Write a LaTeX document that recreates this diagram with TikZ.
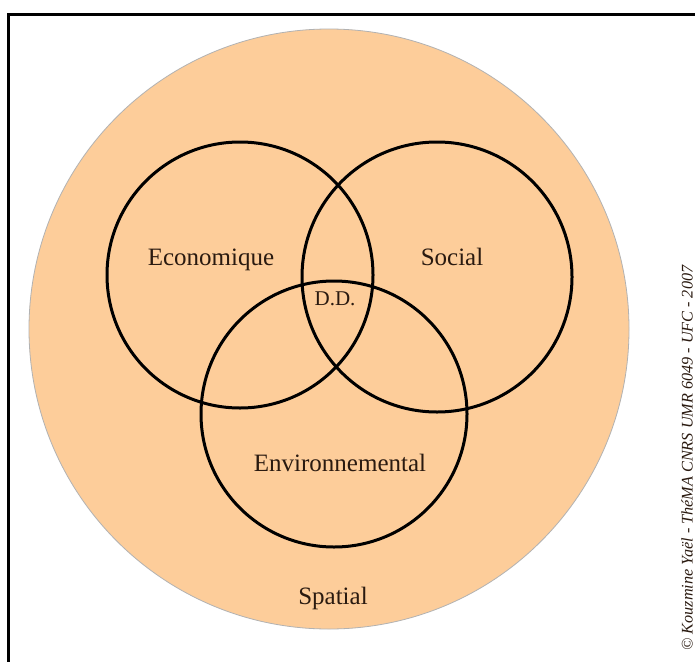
\documentclass[tikz,border=0pt]{standalone}
\usepackage{fontspec}
\setmainfont{Liberation Serif}
\definecolor{peach}{HTML}{FDCD9A}
\definecolor{ink}{HTML}{2A1A10}
\begin{document}
\begin{tikzpicture}[x=1pt,y=-1pt,
  ring/.style={draw=black,line width=3pt},
  lbl/.style={text=ink,font=\fontsize{25}{28}\selectfont,inner sep=0pt},
  small/.style={text=ink,font=\fontsize{16.2}{19}\selectfont\itshape,inner sep=0pt}]
\useasboundingbox (0,0) rectangle (695,661);
\fill[white] (0,0) rectangle (695,661);
% frame
\coordinate (fl) at (8,661);
\coordinate (fc) at (8,15);
\coordinate (fr) at (695,15);
\draw[line width=3pt,line cap=rect] (fl) -- (fc) -- (fr);
% big circle
\node[circle,minimum size=600pt,inner sep=0pt,fill=peach,draw=gray!60,line width=0.8pt] (big) at (329,329) {};
% three circles
\node[circle,minimum size=266pt,inner sep=0pt,ring] (eco) at (240,275) {};
\node[circle,minimum size=270pt,inner sep=0pt,ring] (soc) at (437,277) {};
\node[circle,minimum size=266pt,inner sep=0pt,ring] (env) at (334,414) {};
% labels
\node[lbl] (teco) at (211,260) {Economique};
\node[lbl] (tsoc) at (452,257) {Social};
\node[lbl,font=\fontsize{21}{24}\selectfont] (tdd) at (335,299) {D.D.};
\node[lbl] (tenv) at (340,463) {Environnemental};
\node[lbl] (tspa) at (333,598) {Spatial};
\node[small,rotate=90] (copy) at (687,458) {© Kouzmine Yaël - ThéMA CNRS UMR 6049 - UFC - 2007};
\end{tikzpicture}
\end{document}
